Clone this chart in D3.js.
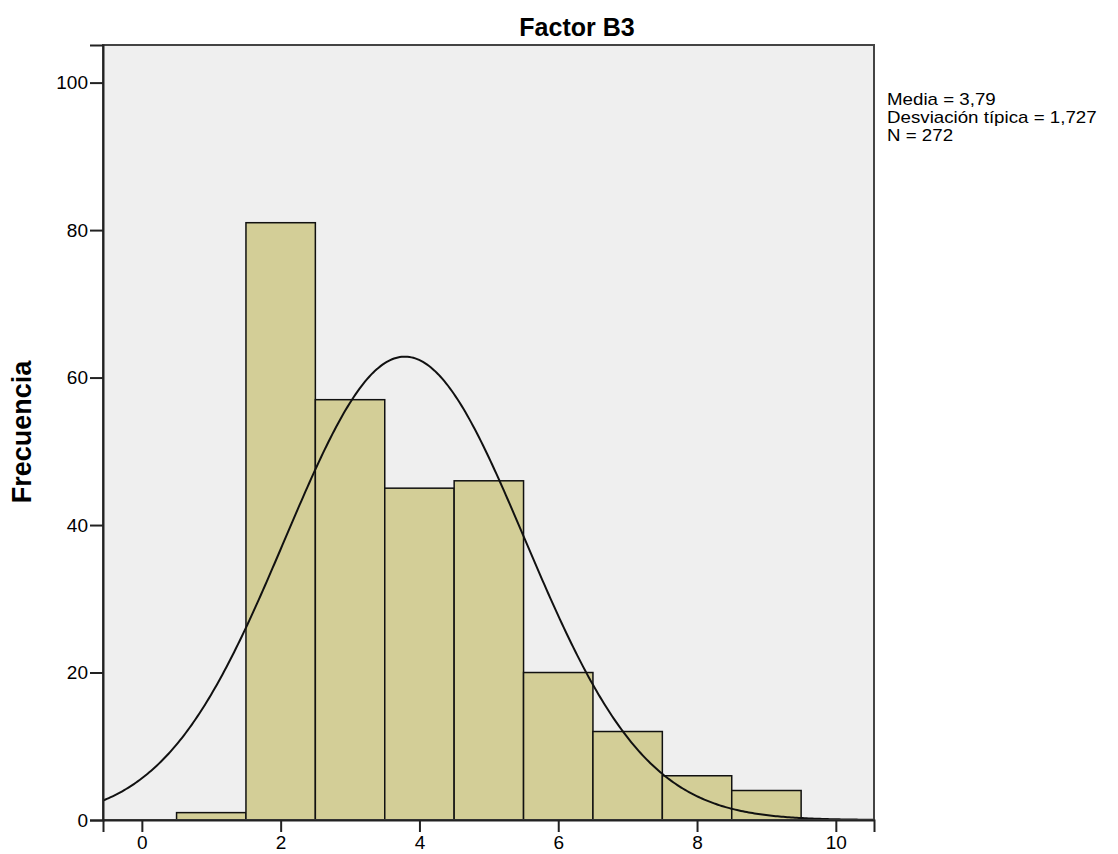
<!DOCTYPE html>
<html>
<head>
<meta charset="utf-8">
<script src="https://cdn.jsdelivr.net/npm/d3@7"></script>
<style>
  body { margin: 0; background: #fff; }
  svg { display: block; }
  text { font-family: Arial, "Liberation Sans", sans-serif; fill: #000; }
</style>
</head>
<body>
<svg id="chart" width="1118" height="854"></svg>
<script>
// ---- data ----
const binStarts = [0.5, 1.5, 2.5, 3.5, 4.5, 5.5, 6.5, 7.5, 8.5];
const binWidth = 1;
const frequencies = [1, 81, 57, 45, 46, 20, 12, 6, 4];
const xTicks = [0, 2, 4, 6, 8, 10];
const yTicks = [0, 20, 40, 60, 80, 100];
const mean = 3.79;
const sd = 1.727;
const n = 272;
const statsLines = ["Media = 3,79", "Desviación típica = 1,727", "N = 272"];
const title = "Factor B3";
const yLabel = "Frecuencia";

// ---- layout ----
const plotL = 103, plotR = 874, plotT = 45, plotB = 820;
const svg = d3.select("#chart");

const x = d3.scaleLinear().domain([-0.56, 10.55]).range([plotL, plotR]);
const y = d3.scaleLinear().domain([0, 105.1]).range([plotB, plotT]);

// plot background
svg.append("rect")
  .attr("x", plotL).attr("y", plotT)
  .attr("width", plotR - plotL).attr("height", plotB - plotT)
  .attr("fill", "#efefef");

// bars
const bins = binStarts.map((s, i) => ({ x0: s, x1: s + binWidth, v: frequencies[i] }));
svg.append("g").selectAll("rect").data(bins).join("rect")
  .attr("x", d => x(d.x0))
  .attr("y", d => y(d.v))
  .attr("width", d => x(d.x1) - x(d.x0))
  .attr("height", d => y(0) - y(d.v))
  .attr("fill", "#d3ce97")
  .attr("stroke", "#111")
  .attr("stroke-width", 1.5);

// normal curve from mean, sd, n
const pdf = t => Math.exp(-0.5 * ((t - mean) / sd) ** 2) / (sd * Math.sqrt(2 * Math.PI));
const [d0, d1] = x.domain();
const curvePts = d3.range(0, 401).map(i => {
  const t = d0 + (d1 - d0) * i / 400;
  return [t, n * binWidth * pdf(t)];
});
svg.append("path")
  .datum(curvePts)
  .attr("fill", "none")
  .attr("stroke", "#111")
  .attr("stroke-width", 2)
  .attr("d", d3.line().x(d => x(d[0])).y(d => y(d[1])));

// frame
svg.append("rect")
  .attr("x", plotL).attr("y", plotT)
  .attr("width", plotR - plotL).attr("height", plotB - plotT)
  .attr("fill", "none")
  .attr("stroke", "#444")
  .attr("stroke-width", 2);

// axes
const xAxis = svg.append("g")
  .attr("transform", `translate(0,${plotB})`)
  .call(d3.axisBottom(x).tickValues(xTicks).tickSize(12).tickPadding(4).tickFormat(d3.format("d")));
const yAxis = svg.append("g")
  .attr("transform", `translate(${plotL},0)`)
  .call(d3.axisLeft(y).tickValues(yTicks).tickSize(13).tickPadding(2).tickFormat(d3.format("d")));
[xAxis, yAxis].forEach(g => {
  g.select(".domain").attr("stroke", "#222").attr("stroke-width", 2);
  g.selectAll(".tick line").attr("stroke", "#222").attr("stroke-width", 2);
  g.selectAll(".tick text").attr("font-size", 19).attr("fill", "#111")
    .attr("font-family", "Arial, 'Liberation Sans', sans-serif");
});

// title
svg.append("text")
  .attr("x", 577).attr("y", 36)
  .attr("text-anchor", "middle")
  .attr("font-size", 25).attr("font-weight", "bold")
  .text(title);

// y label
svg.append("text")
  .attr("transform", "translate(31,432) rotate(-90)")
  .attr("text-anchor", "middle")
  .attr("font-size", 27).attr("font-weight", "bold")
  .text(yLabel);

// stats (tight lines, slightly widened glyphs)
svg.append("g")
  .attr("transform", "translate(887,0) scale(1.17,1)")
  .selectAll("text").data(statsLines).join("text")
  .attr("x", 0)
  .attr("y", (d, i) => 105 + i * 18)
  .attr("font-size", 16)
  .text(d => d);
</script>
</body>
</html>
